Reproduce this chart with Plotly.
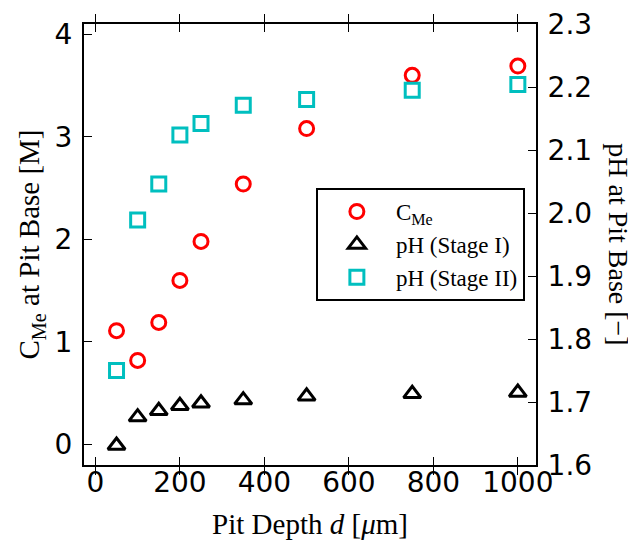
import plotly.graph_objects as go

depth = [50, 100, 150, 200, 250, 350, 500, 750, 1000]
c_me = [1.11, 0.82, 1.19, 1.60, 1.98, 2.54, 3.08, 3.60, 3.69]
ph_stage1 = [1.631, 1.676, 1.686, 1.694, 1.698, 1.703, 1.709, 1.713, 1.715]
ph_stage2 = [1.750, 1.989, 2.046, 2.124, 2.142, 2.171, 2.180, 2.195, 2.204]

x_ticks = [0, 200, 400, 600, 800, 1000]
y_ticks = [0, 1, 2, 3, 4]
y2_ticks = [1.6, 1.7, 1.8, 1.9, 2.0, 2.1, 2.2, 2.3]

SERIF = "Liberation Serif"
SANS = "DejaVu Sans"

fig = go.Figure()
fig.add_trace(go.Scatter(
    x=depth, y=c_me, mode="markers", name="C<sub>Me</sub>",
    marker=dict(symbol="circle-open", size=14, color="#ff0000", line=dict(width=3, color="#ff0000")),
    yaxis="y"))
fig.add_trace(go.Scatter(
    x=depth, y=ph_stage1, mode="markers", name="pH (Stage I)",
    marker=dict(symbol="triangle-up-open", size=15, color="#000000", line=dict(width=3, color="#000000")),
    yaxis="y2"))
fig.add_trace(go.Scatter(
    x=depth, y=ph_stage2, mode="markers", name="pH (Stage II)",
    marker=dict(symbol="square-open", size=14, color="#00bfbf", line=dict(width=3, color="#00bfbf")),
    yaxis="y2"))

axis_common = dict(
    showgrid=False, zeroline=False, showline=True, linecolor="black", linewidth=2,
    ticks="inside", ticklen=8, tickwidth=1.2, tickcolor="black", automargin=False,
    ticklabeloverflow="allow",
    tickfont=dict(family=SANS, size=28, color="black"),
)

fig.update_layout(
    template="none",
    width=636, height=546, autosize=False,
    paper_bgcolor="white", plot_bgcolor="white",
    margin=dict(l=76, r=108, t=16, b=89),
    showlegend=True,
    legend=dict(
        x=0.513, y=0.628, xanchor="left", yanchor="top",
        bgcolor="white", bordercolor="black", borderwidth=2,
        font=dict(family=SERIF, size=23, color="black"),
        itemwidth=68,
    ),
    xaxis=dict(
        range=[-27, 1043], tickmode="array", tickvals=x_ticks,
        ticktext=[str(v) for v in x_ticks], mirror="allticks",
        ticklabelstandoff=-9,
        title=dict(text="Pit Depth <i>d</i> [<i>μ</i>m]", font=dict(family=SERIF, size=29, color="black"), standoff=16),
        **axis_common),
    yaxis=dict(
        range=[-0.2, 4.1], tickmode="array", tickvals=y_ticks,
        ticktext=[str(v) for v in y_ticks], side="left",
        ticklabelstandoff=4,
        title=dict(text="C<sub>Me</sub> at Pit Base [M]", font=dict(family=SERIF, size=29, color="black"), standoff=6),
        **axis_common),
    yaxis2=dict(
        range=[1.6, 2.3], tickmode="array", tickvals=y2_ticks,
        ticktext=[f"{v:.1f}" for v in y2_ticks], side="right", overlaying="y",
        ticklabelstandoff=4,
        **axis_common),
    annotations=[dict(
        text="pH at Pit Base [−]", textangle=90, showarrow=False,
        xref="paper", yref="paper", x=1.182, y=0.5, xanchor="center", yanchor="middle",
        font=dict(family=SERIF, size=28, color="black"))],
)

fig.write_html("out.html")
